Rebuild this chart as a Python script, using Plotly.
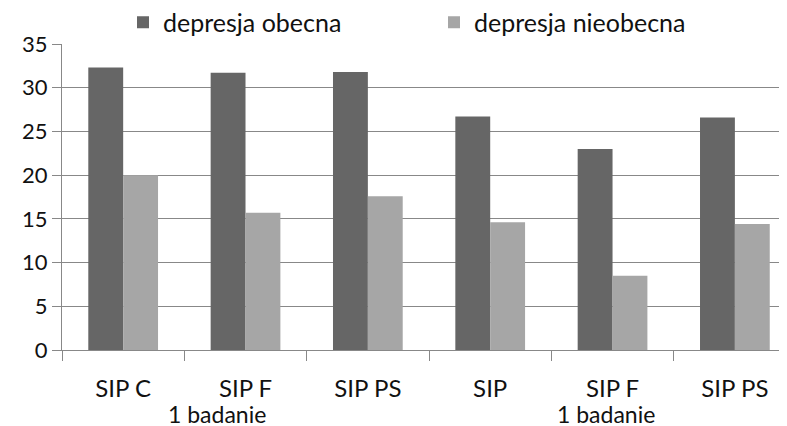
import plotly.graph_objects as go

categories = ["SIP C", "SIP F", "SIP PS", "SIP", "SIP F", "SIP PS"]
obecna = [32.3, 31.7, 31.8, 26.7, 23.0, 26.6]
nieobecna = [20.0, 15.7, 17.6, 14.6, 8.5, 14.4]
series_names = ["depresja obecna", "depresja nieobecna"]
sub_label = "1 badanie"
sub_positions = [0.77, 3.95]

x = list(range(len(categories)))
FONT = "Lato, 'DejaVu Sans', sans-serif"

fig = go.Figure()
fig.add_trace(go.Bar(x=x, y=obecna, name=series_names[0], marker=dict(color="#666666", line=dict(width=0))))
fig.add_trace(go.Bar(x=x, y=nieobecna, name=series_names[1], marker=dict(color="#a6a6a6", line=dict(width=0))))

for p in sub_positions:
    fig.add_annotation(x=p, y=-0.21, xref="x", yref="paper", text=sub_label,
                       showarrow=False, yanchor="middle", xanchor="center",
                       font=dict(family=FONT, size=23, color="#111111"))

fig.update_layout(
    width=779, height=418,
    margin=dict(l=54, r=0, t=36, b=76, autoexpand=False),
    paper_bgcolor="white", plot_bgcolor="white",
    barmode="group", bargap=0.43, bargroupgap=0,
    font=dict(family=FONT, size=22, color="#111111"),
    showlegend=True,
    legend=dict(orientation="h", xref="container", yref="paper",
                x=115/779, y=1.07, xanchor="left", yanchor="middle",
                entrywidth=266, entrywidthmode="pixels",
                font=dict(family=FONT, size=25, color="#111111"), bgcolor="rgba(0,0,0,0)"),
    xaxis=dict(
        range=[-0.5, 5.426], tickvals=x, ticktext=categories, ticks="",
        tickfont=dict(family=FONT, size=24, color="#111111"),
        showgrid=False, zeroline=False, showline=True, linecolor="#888888", linewidth=1,
        ticklabelstandoff=17, automargin=False,
        minor=dict(tick0=-0.5, dtick=1, ticks="outside", ticklen=10, tickcolor="#888888", showgrid=False),
    ),
    yaxis=dict(
        range=[0, 35], dtick=5, tickmode="linear", tick0=0, automargin=False,
        tickfont=dict(family=FONT, size=22, color="#111111"),
        showgrid=True, gridcolor="#888888", gridwidth=1,
        zeroline=False, showline=True, linecolor="#888888", linewidth=1,
        ticks="outside", ticklen=9, tickcolor="#888888",
    ),
)

fig.write_html("out.html")
